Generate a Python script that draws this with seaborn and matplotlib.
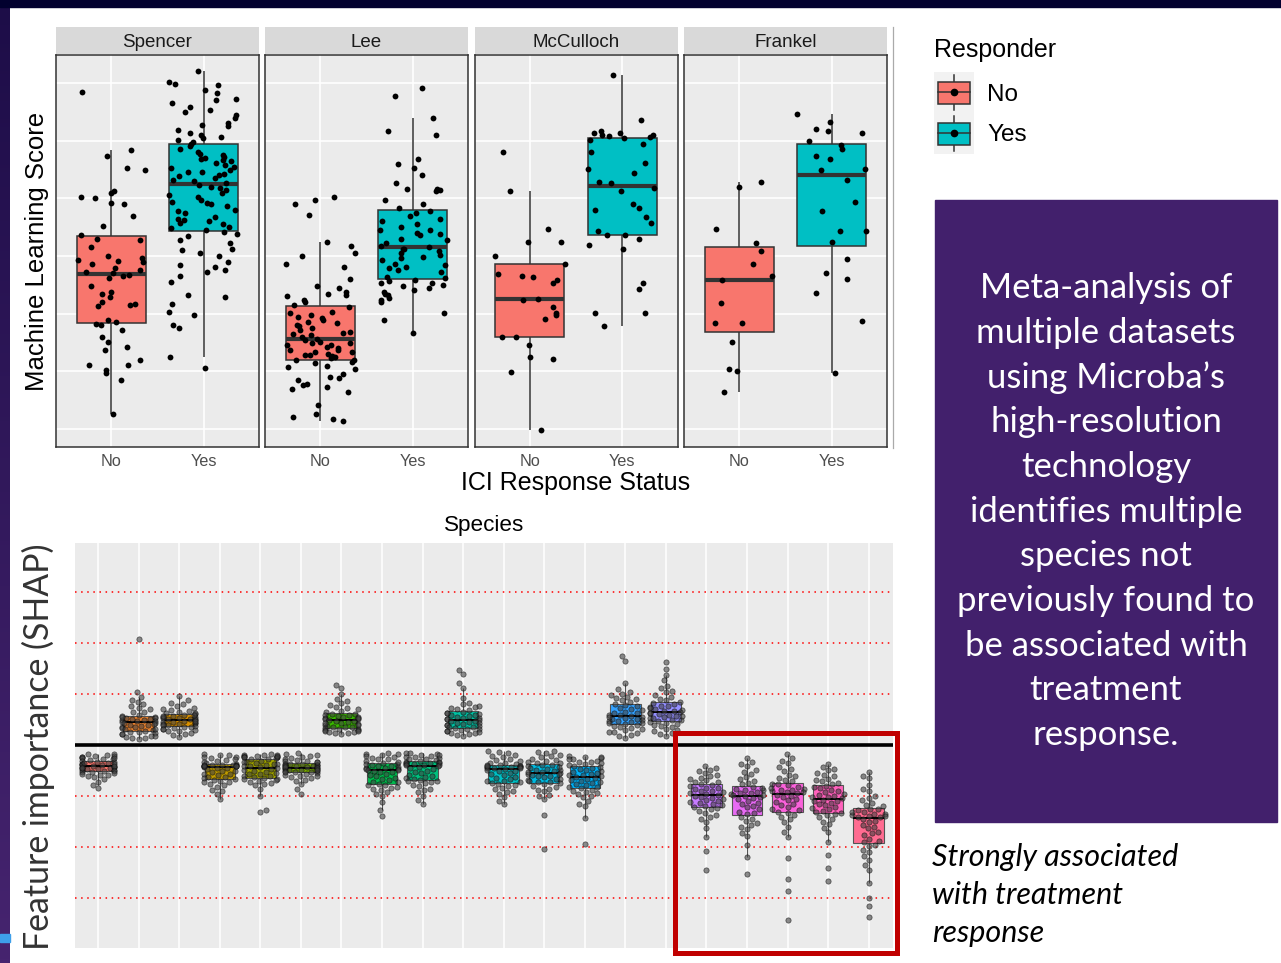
import numpy as np
import pandas as pd
import matplotlib
matplotlib.use("Agg")
import matplotlib.pyplot as plt
import seaborn as sns
from matplotlib.patches import Rectangle
from matplotlib.lines import Line2D
from matplotlib.colors import LinearSegmentedColormap

# ----------------------------- data: top chart -----------------------------
studies = ["Spencer", "Lee", "McCulloch", "Frankel"]
responder_levels = ["No", "Yes"]
responder_colors = {"No": "#F8766D", "Yes": "#00BFC4"}

spencer_no = [0.585, 0.484, 0.473, 0.453, 0.449, 0.413, 0.409, 0.403, 0.401, 0.392, 0.390, 0.369,
              0.352, 0.336, 0.330, 0.328, 0.316, 0.300, 0.296, 0.293, 0.291, 0.290, 0.287, 0.280,
              0.276, 0.273, 0.271, 0.268, 0.266, 0.262, 0.248, 0.238, 0.235, 0.229, 0.221, 0.217,
              0.215, 0.213, 0.186, 0.183, 0.190, 0.180, 0.172, 0.160, 0.151, 0.143, 0.137, 0.120,
              0.112, 0.111, 0.103, 0.098, 0.085, 0.027]
spencer_yes = [0.621, 0.602, 0.599, 0.596, 0.588, 0.582, 0.572, 0.570, 0.565, 0.559, 0.553, 0.550,
               0.544, 0.540, 0.530, 0.528, 0.525, 0.518, 0.513, 0.510, 0.507, 0.505, 0.501, 0.498,
               0.495, 0.490, 0.485, 0.481, 0.477, 0.475, 0.472, 0.470, 0.468, 0.466, 0.464, 0.461,
               0.458, 0.455, 0.452, 0.449, 0.446, 0.445, 0.443, 0.440, 0.438, 0.435, 0.432, 0.430,
               0.427, 0.423, 0.420, 0.418, 0.414, 0.409, 0.405, 0.403, 0.397, 0.394, 0.392, 0.391,
               0.386, 0.380, 0.378, 0.374, 0.368, 0.365, 0.362, 0.360, 0.357, 0.355, 0.351, 0.348,
               0.345, 0.342, 0.339, 0.334, 0.328, 0.322, 0.313, 0.310, 0.305, 0.300, 0.290, 0.284,
               0.281, 0.276, 0.273, 0.265, 0.255, 0.232, 0.229, 0.217, 0.203, 0.198, 0.180, 0.175,
               0.125, 0.106]
lee_no = [0.403, 0.397, 0.391, 0.371, 0.325, 0.317, 0.305, 0.300, 0.287, 0.281, 0.261, 0.248,
          0.244, 0.238, 0.235, 0.232, 0.230, 0.224, 0.220, 0.215, 0.212, 0.145, 0.203, 0.201,
          0.198, 0.133, 0.195, 0.192, 0.189, 0.186, 0.184, 0.180, 0.178, 0.129, 0.175, 0.172,
          0.169, 0.166, 0.165, 0.163, 0.160, 0.157, 0.154, 0.151, 0.150, 0.149, 0.146, 0.143,
          0.140, 0.138, 0.137, 0.134, 0.131, 0.128, 0.126, 0.125, 0.123, 0.120, 0.119, 0.117,
          0.114, 0.110, 0.108, 0.105, 0.095, 0.091, 0.088, 0.085, 0.079, 0.076, 0.073, 0.070,
          0.065, 0.042, 0.027, 0.021, 0.018, 0.014]
lee_yes = [0.591, 0.578, 0.540, 0.517, 0.510, 0.469, 0.460, 0.453, 0.440, 0.426, 0.417, 0.416,
           0.414, 0.412, 0.398, 0.390, 0.383, 0.378, 0.374, 0.370, 0.365, 0.360, 0.355, 0.351,
           0.346, 0.345, 0.340, 0.339, 0.336, 0.330, 0.328, 0.322, 0.318, 0.316, 0.313, 0.312,
           0.308, 0.305, 0.302, 0.299, 0.296, 0.293, 0.287, 0.284, 0.281, 0.279, 0.276, 0.273,
           0.256, 0.254, 0.263, 0.262, 0.258, 0.253, 0.250, 0.248, 0.244, 0.241, 0.238, 0.235,
           0.232, 0.228, 0.224, 0.221, 0.201, 0.189, 0.167]
mcculloch_no = [0.480, 0.413, 0.347, 0.325, 0.324, 0.300, 0.286, 0.269, 0.265, 0.263, 0.258, 0.254,
                0.225, 0.223, 0.211, 0.202, 0.198, 0.191, 0.160, 0.159, 0.146, 0.125, 0.121, 0.099,
                -0.002]
mcculloch_yes = [0.614, 0.536, 0.517, 0.514, 0.513, 0.510, 0.509, 0.508, 0.507, 0.504, 0.502, 0.494,
                 0.480, 0.461, 0.451, 0.444, 0.429, 0.426, 0.418, 0.413, 0.390, 0.384, 0.379, 0.368,
                 0.358, 0.343, 0.336, 0.336, 0.329, 0.319, 0.313, 0.254, 0.243, 0.201, 0.201, 0.179]
frankel_no = [0.429, 0.420, 0.347, 0.322, 0.309, 0.287, 0.265, 0.258, 0.218, 0.184, 0.184, 0.151,
              0.105, 0.101, 0.065]
frankel_yes = [0.547, 0.532, 0.520, 0.516, 0.513, 0.500, 0.492, 0.485, 0.474, 0.468, 0.451, 0.450,
               0.432, 0.394, 0.378, 0.343, 0.343, 0.324, 0.295, 0.271, 0.260, 0.236, 0.187, 0.098]

score_groups = {
    ("Spencer", "No"): spencer_no, ("Spencer", "Yes"): spencer_yes,
    ("Lee", "No"): lee_no, ("Lee", "Yes"): lee_yes,
    ("McCulloch", "No"): mcculloch_no, ("McCulloch", "Yes"): mcculloch_yes,
    ("Frankel", "No"): frankel_no, ("Frankel", "Yes"): frankel_yes,
}

# ----------------------------- data: bottom chart -----------------------------
species = [f"Species {i:02d}" for i in range(1, 21)]
species_colors = ["#F8766D", "#EA8331", "#D89000", "#C09B00", "#A3A500", "#7CAE00", "#39B600",
                  "#00BB4E", "#00BF7D", "#00C1A3", "#00BFC4", "#00BAE0", "#00B0F6", "#35A2FF",
                  "#9590FF", "#C77CFF", "#E76BF3", "#FA62DB", "#FF62BC", "#FF6C91"]

shap_01 = [-0.017, -0.019, -0.021, -0.023, -0.024, -0.026, -0.028, -0.029, -0.031, -0.033, -0.034,
           -0.036, -0.037, -0.038, -0.039, -0.040, -0.042, -0.043, -0.044, -0.045, -0.046, -0.048,
           -0.049, -0.050, -0.053, -0.056, -0.059, -0.063, -0.067, -0.072, -0.078, -0.084,
           -0.018, -0.022, -0.025, -0.027, -0.032, -0.035, -0.037, -0.040, -0.042, -0.045, -0.047,
           -0.050, -0.052, -0.055, -0.058, -0.061]
shap_02 = [0.209, 0.104, 0.095, 0.088, 0.080, 0.072, 0.066, 0.060, 0.057, 0.055, 0.053, 0.051,
           0.050, 0.048, 0.047, 0.046, 0.044, 0.042, 0.040, 0.038, 0.036, 0.034, 0.031, 0.029,
           0.027, 0.025, 0.023, 0.021, 0.019, 0.017, 0.015, 0.013,
           0.065, 0.070, 0.076, 0.085, 0.049, 0.052, 0.054, 0.056, 0.043, 0.039, 0.035, 0.032,
           0.026, 0.022, 0.018, 0.015]
shap_03 = [0.096, 0.088, 0.082, 0.077, 0.073, 0.069, 0.066, 0.063, 0.061, 0.059, 0.058, 0.056,
           0.055, 0.053, 0.052, 0.051, 0.049, 0.047, 0.046, 0.044, 0.043, 0.041, 0.039, 0.038,
           0.036, 0.034, 0.032, 0.030, 0.027, 0.024, 0.020, 0.016,
           0.064, 0.067, 0.071, 0.080, 0.052, 0.054, 0.057, 0.060, 0.048, 0.045, 0.042, 0.040,
           0.035, 0.031, 0.028, 0.022]
shap_04 = [-0.017, -0.020, -0.023, -0.026, -0.029, -0.031, -0.034, -0.036, -0.038, -0.039, -0.039,
           -0.040, -0.040, -0.041, -0.041, -0.042, -0.044, -0.047, -0.050, -0.053, -0.056, -0.059,
           -0.062, -0.065, -0.067, -0.070, -0.073, -0.077, -0.082, -0.088, -0.096, -0.106,
           -0.019, -0.024, -0.028, -0.033, -0.038, -0.039, -0.040, -0.041, -0.045, -0.051, -0.057,
           -0.063, -0.068, -0.072, -0.079, -0.090]
shap_05 = [-0.018, -0.019, -0.020, -0.021, -0.022, -0.023, -0.024, -0.025, -0.027, -0.030, -0.033,
           -0.035, -0.037, -0.039, -0.041, -0.043, -0.046, -0.049, -0.052, -0.055, -0.057, -0.060,
           -0.062, -0.064, -0.067, -0.070, -0.074, -0.079, -0.085, -0.100, -0.127, -0.130,
           -0.019, -0.021, -0.023, -0.024, -0.028, -0.032, -0.036, -0.040, -0.045, -0.050, -0.056,
           -0.061, -0.066, -0.069, -0.072, -0.076]
shap_06 = [-0.015, -0.018, -0.021, -0.024, -0.027, -0.029, -0.031, -0.033, -0.036, -0.037, -0.038,
           -0.039, -0.040, -0.041, -0.042, -0.043, -0.045, -0.046, -0.047, -0.048, -0.049, -0.050,
           -0.052, -0.053, -0.055, -0.058, -0.061, -0.065, -0.070, -0.077, -0.086, -0.095,
           -0.020, -0.025, -0.030, -0.033, -0.037, -0.039, -0.041, -0.043, -0.045, -0.048, -0.050,
           -0.052, -0.056, -0.060, -0.063, -0.068]
shap_07 = [0.119, 0.112, 0.100, 0.090, 0.082, 0.075, 0.070, 0.066, 0.062, 0.060, 0.058, 0.056,
           0.054, 0.052, 0.051, 0.050, 0.048, 0.046, 0.044, 0.042, 0.040, 0.038, 0.036, 0.035,
           0.033, 0.031, 0.030, 0.028, 0.026, 0.025, 0.023, 0.021,
           0.068, 0.072, 0.078, 0.086, 0.053, 0.055, 0.059, 0.061, 0.047, 0.043, 0.039, 0.036,
           0.032, 0.029, 0.027, 0.024]
shap_08 = [-0.015, -0.017, -0.019, -0.022, -0.025, -0.028, -0.031, -0.034, -0.036, -0.038, -0.040,
           -0.042, -0.044, -0.046, -0.047, -0.048, -0.050, -0.053, -0.057, -0.061, -0.065, -0.069,
           -0.073, -0.076, -0.079, -0.083, -0.087, -0.092, -0.100, -0.112, -0.128, -0.139,
           -0.018, -0.023, -0.027, -0.032, -0.037, -0.041, -0.045, -0.048, -0.052, -0.059, -0.066,
           -0.072, -0.078, -0.081, -0.085, -0.095]
shap_09 = [-0.015, -0.017, -0.019, -0.021, -0.023, -0.025, -0.027, -0.029, -0.032, -0.033, -0.034,
           -0.035, -0.037, -0.038, -0.039, -0.040, -0.043, -0.046, -0.050, -0.054, -0.058, -0.062,
           -0.065, -0.068, -0.071, -0.075, -0.080, -0.085, -0.092, -0.100, -0.108, -0.116,
           -0.016, -0.020, -0.024, -0.028, -0.031, -0.034, -0.036, -0.039, -0.045, -0.052, -0.060,
           -0.066, -0.070, -0.073, -0.078, -0.088]
shap_10 = [0.148, 0.140, 0.121, 0.112, 0.092, 0.083, 0.076, 0.070, 0.066, 0.063, 0.061, 0.059,
           0.056, 0.054, 0.052, 0.051, 0.049, 0.047, 0.045, 0.043, 0.041, 0.039, 0.037, 0.035,
           0.033, 0.031, 0.029, 0.027, 0.025, 0.023, 0.020, 0.018,
           0.069, 0.072, 0.074, 0.080, 0.053, 0.057, 0.060, 0.064, 0.048, 0.044, 0.040, 0.036,
           0.032, 0.028, 0.024, 0.021]
shap_11 = [-0.012, -0.015, -0.019, -0.023, -0.027, -0.031, -0.034, -0.037, -0.039, -0.040, -0.041,
           -0.042, -0.043, -0.044, -0.045, -0.046, -0.048, -0.051, -0.055, -0.059, -0.063, -0.067,
           -0.070, -0.073, -0.076, -0.080, -0.084, -0.089, -0.095, -0.102, -0.109, -0.116,
           -0.014, -0.021, -0.029, -0.035, -0.039, -0.041, -0.043, -0.045, -0.050, -0.057, -0.065,
           -0.071, -0.075, -0.078, -0.086, -0.092]
shap_12 = [-0.012, -0.016, -0.020, -0.024, -0.027, -0.030, -0.033, -0.035, -0.038, -0.041, -0.044,
           -0.046, -0.048, -0.050, -0.052, -0.054, -0.056, -0.058, -0.060, -0.063, -0.066, -0.068,
           -0.071, -0.073, -0.076, -0.080, -0.085, -0.090, -0.097, -0.105, -0.137, -0.203,
           -0.014, -0.022, -0.029, -0.034, -0.039, -0.043, -0.049, -0.053, -0.057, -0.061, -0.067,
           -0.072, -0.075, -0.082, -0.088, -0.100]
shap_13 = [-0.022, -0.024, -0.026, -0.028, -0.031, -0.033, -0.035, -0.038, -0.041, -0.044, -0.047,
           -0.050, -0.053, -0.056, -0.058, -0.061, -0.063, -0.066, -0.069, -0.072, -0.075, -0.078,
           -0.081, -0.084, -0.087, -0.091, -0.096, -0.102, -0.110, -0.120, -0.142, -0.193,
           -0.023, -0.027, -0.032, -0.036, -0.043, -0.048, -0.054, -0.059, -0.065, -0.070, -0.076,
           -0.082, -0.089, -0.094, -0.100, -0.115]
shap_14 = [0.175, 0.165, 0.122, 0.110, 0.101, 0.095, 0.090, 0.085, 0.080, 0.076, 0.072, 0.069,
           0.066, 0.063, 0.060, 0.058, 0.056, 0.054, 0.052, 0.050, 0.048, 0.046, 0.044, 0.042,
           0.039, 0.036, 0.033, 0.030, 0.026, 0.023, 0.019, 0.015,
           0.088, 0.093, 0.098, 0.105, 0.059, 0.064, 0.070, 0.078, 0.055, 0.051, 0.047, 0.043,
           0.038, 0.031, 0.025, 0.020]
shap_15 = [0.164, 0.150, 0.138, 0.127, 0.117, 0.107, 0.098, 0.090, 0.084, 0.080, 0.077, 0.074,
           0.071, 0.069, 0.067, 0.066, 0.064, 0.062, 0.060, 0.057, 0.055, 0.053, 0.050, 0.048,
           0.045, 0.042, 0.039, 0.035, 0.031, 0.027, 0.023, 0.019,
           0.088, 0.094, 0.104, 0.112, 0.068, 0.072, 0.076, 0.082, 0.063, 0.058, 0.054, 0.049,
           0.044, 0.037, 0.029, 0.022]
shap_16 = [-0.041, -0.045, -0.050, -0.055, -0.060, -0.065, -0.069, -0.073, -0.077, -0.080, -0.083,
           -0.086, -0.089, -0.092, -0.094, -0.097, -0.100, -0.103, -0.106, -0.109, -0.112, -0.115,
           -0.118, -0.121, -0.126, -0.132, -0.140, -0.150, -0.162, -0.180, -0.208, -0.244,
           -0.048, -0.058, -0.067, -0.072, -0.078, -0.084, -0.090, -0.095, -0.101, -0.107, -0.113,
           -0.119, -0.124, -0.129, -0.136, -0.145]
shap_17 = [-0.025, -0.032, -0.040, -0.048, -0.056, -0.063, -0.070, -0.077, -0.082, -0.085, -0.088,
           -0.091, -0.094, -0.096, -0.098, -0.099, -0.102, -0.106, -0.110, -0.115, -0.120, -0.125,
           -0.130, -0.135, -0.141, -0.148, -0.156, -0.165, -0.178, -0.195, -0.220, -0.252,
           -0.036, -0.052, -0.066, -0.074, -0.083, -0.087, -0.093, -0.097, -0.104, -0.113, -0.122,
           -0.133, -0.144, -0.152, -0.160, -0.172]
shap_18 = [-0.018, -0.026, -0.035, -0.043, -0.051, -0.058, -0.065, -0.071, -0.076, -0.079, -0.082,
           -0.085, -0.088, -0.090, -0.092, -0.094, -0.097, -0.101, -0.106, -0.111, -0.116, -0.121,
           -0.126, -0.130, -0.136, -0.145, -0.160, -0.180, -0.222, -0.263, -0.286, -0.343,
           -0.030, -0.047, -0.061, -0.068, -0.077, -0.083, -0.087, -0.091, -0.099, -0.108, -0.118,
           -0.128, -0.133, -0.140, -0.150, -0.170]
shap_19 = [-0.037, -0.043, -0.049, -0.055, -0.061, -0.066, -0.071, -0.076, -0.080, -0.084, -0.088,
           -0.092, -0.096, -0.099, -0.102, -0.104, -0.107, -0.110, -0.114, -0.118, -0.122, -0.126,
           -0.129, -0.132, -0.137, -0.145, -0.155, -0.170, -0.190, -0.215, -0.240, -0.267,
           -0.046, -0.058, -0.068, -0.074, -0.082, -0.090, -0.097, -0.101, -0.109, -0.116, -0.124,
           -0.131, -0.135, -0.141, -0.150, -0.162]
shap_20 = [-0.052, -0.065, -0.078, -0.090, -0.100, -0.108, -0.114, -0.120, -0.125, -0.128, -0.131,
           -0.134, -0.136, -0.138, -0.140, -0.141, -0.145, -0.151, -0.157, -0.163, -0.170, -0.177,
           -0.184, -0.190, -0.198, -0.210, -0.225, -0.245, -0.270, -0.300, -0.315, -0.337,
           -0.060, -0.085, -0.104, -0.117, -0.126, -0.130, -0.135, -0.139, -0.148, -0.160, -0.173,
           -0.187, -0.195, -0.205, -0.218, -0.235]
shap_values = [shap_01, shap_02, shap_03, shap_04, shap_05, shap_06, shap_07, shap_08, shap_09,
               shap_10, shap_11, shap_12, shap_13, shap_14, shap_15, shap_16, shap_17, shap_18,
               shap_19, shap_20]
shap_reference_lines = [-0.3, -0.2, -0.1, 0.1, 0.2, 0.3]

# ----------------------------- texts -----------------------------
panel_lines = ["Meta-analysis of", "multiple datasets", "using Microba\u2019s", "high-resolution",
               "technology", "identifies multiple", "species not", "previously found to",
               "be associated with", "treatment", "response."]
caption_lines = ["Strongly associated", "with treatment", "response"]

# ----------------------------- frames -----------------------------
top_df = pd.DataFrame([(s, r, v) for (s, r), vals in score_groups.items() for v in vals],
                      columns=["study", "responder", "score"])
bot_df = pd.DataFrame([(sp, v) for sp, vals in zip(species, shap_values) for v in vals],
                      columns=["species", "shap"])

# ----------------------------- figure -----------------------------
plt.rcParams["font.family"] = ["Liberation Sans", "DejaVu Sans"]
W, H = 1281, 963
fig = plt.figure(figsize=(W / 100, H / 100), dpi=100)
fig.patch.set_facecolor("white")


def fx(px):
    return px / W


def fy(py):
    return 1 - py / H


# slide decorations
ax_bg = fig.add_axes([0, 0, 10 / W, 1])
ax_bg.axis("off")
ax_bg.imshow(np.linspace(0, 1, 256).reshape(-1, 1), aspect="auto",
             cmap=LinearSegmentedColormap.from_list("strip", ["#1D0D48", "#46246F"]),
             extent=[0, 1, 0, 1], origin="upper")
fig.add_artist(Rectangle((0, fy(942)), 10 / W, 8 / H, color="#3E9FEA", transform=fig.transFigure))
fig.add_artist(Rectangle((0, fy(7)), 1, 7 / H, color="#02012F", transform=fig.transFigure))

# ----------------------------- top facets -----------------------------
np.random.seed(7)
facet_left_px = [56, 265, 474.5, 684]
facet_w_px = 203
for i, st in enumerate(studies):
    left = facet_left_px[i]
    ax = fig.add_axes([fx(left), fy(447), facet_w_px / W, 392 / H])
    ax.set_facecolor("#EBEBEB")
    sub = top_df[top_df["study"] == st]
    sns.boxplot(data=sub, x="responder", y="score", hue="responder", order=responder_levels,
                hue_order=responder_levels, palette=responder_colors, saturation=1, width=0.75,
                showfliers=False, showcaps=False, linewidth=1.1, linecolor="#333333",
                medianprops=dict(color="#333333", linewidth=3), legend=False, ax=ax)
    sns.stripplot(data=sub, x="responder", y="score", order=responder_levels, color="black",
                  size=4.2, jitter=0.38, ax=ax, zorder=3)
    ax.set_xlim(-0.6, 1.6)
    ax.set_ylim(-0.031, 0.6485)
    ax.set_yticks(np.arange(0, 0.65, 0.1))
    ax.set_yticklabels([])
    ax.set_axisbelow(True)
    ax.grid(True, color="white", linewidth=1.2)
    ax.set_xlabel("")
    ax.set_ylabel("")
    ax.tick_params(axis="y", length=0)
    ax.tick_params(axis="x", length=0, pad=5, labelsize=11.7, labelcolor="#4D4D4D")
    for sp in ax.spines.values():
        sp.set_color("#333333")
        sp.set_linewidth(1.1)
    sax = fig.add_axes([fx(left), fy(54.5), facet_w_px / W, 27.5 / H])
    sax.set_facecolor("#D9D9D9")
    sax.set_xticks([])
    sax.set_yticks([])
    for sp in sax.spines.values():
        sp.set_visible(False)
    sax.text(0.5, 0.44, st, ha="center", va="center", fontsize=13.5, color="#1A1A1A",
             transform=sax.transAxes)

fig.add_artist(Line2D([fx(893), fx(893)], [fy(448), fy(27)], color="#AAAAAA", lw=0.9,
                      transform=fig.transFigure))

fig.text(fx(576), fy(483), "ICI Response Status", ha="center", va="center", fontsize=18,
         color="black")
fig.text(fx(37), fy(251), "Machine Learning Score", ha="center", va="center", rotation=90,
         fontsize=18.5, color="black")

# legend
fig.text(fx(934), fy(50), "Responder", ha="left", va="center", fontsize=18, color="black")
for j, lvl in enumerate(responder_levels):
    fig.text(fx(987), fy(95 + 40 * j), lvl, ha="left", va="center", fontsize=17.5, color="black")
lax = fig.add_axes([fx(934), fy(154), 40 / W, 82 / H])
lax.set_xlim(0, 1)
lax.set_ylim(0, 2)
lax.axis("off")
lax.add_patch(Rectangle((0, 0), 1, 2, color="#F2F2F2", zorder=0))
for j, lvl in enumerate(responder_levels):
    base = 1 - j
    lax.plot([0.5, 0.5], [base + 0.07, base + 0.93], color="#333333", lw=1.1, zorder=1)
    lax.add_patch(Rectangle((0.1, base + 0.23), 0.8, 0.53, facecolor=responder_colors[lvl],
                            edgecolor="#333333", lw=1.1, zorder=2))
    lax.plot([0.1, 0.9], [base + 0.5, base + 0.5], color="#333333", lw=1.1, zorder=3)
    lax.plot([0.5], [base + 0.5], "o", color="black", ms=4.5, zorder=4)

# ----------------------------- bottom chart -----------------------------
axb = fig.add_axes([fx(75), fy(947.7), 818 / W, 405 / H])
axb.set_facecolor("#EBEBEB")
sns.boxplot(data=bot_df, x="species", y="shap", hue="species", order=species, hue_order=species,
            palette=species_colors, saturation=1, width=0.75, showfliers=False, showcaps=False,
            linewidth=0.8, linecolor="#555555", medianprops=dict(color="black", linewidth=1.4),
            legend=False, ax=axb)
sns.swarmplot(data=bot_df, x="species", y="shap", order=species, color="#404040", alpha=0.6,
              size=3.8, edgecolor="black", linewidth=0.5, ax=axb, zorder=3)
for v in shap_reference_lines:
    axb.axhline(v, color="red", linestyle=(0, (1, 3)), linewidth=1.1, zorder=1.5)
axb.axhline(0, color="black", linewidth=2.6, zorder=1.6)
axb.set_xlim(-0.57, 19.6)
axb.set_ylim(-0.397, 0.397)
axb.set_xticks(range(len(species)))
axb.set_axisbelow(True)
axb.xaxis.grid(True, color="white", linewidth=1.1)
axb.yaxis.grid(False)
axb.tick_params(length=0, labelbottom=False, labelleft=False)
axb.set_xlabel("")
axb.set_ylabel("")
for sp in axb.spines.values():
    sp.set_visible(False)

fig.text(fx(484), fy(525.7), "Species", ha="center", va="center", fontsize=16.2, color="black")
fig.text(fx(38), fy(747), "Feature importance (SHAP)", ha="center", va="center", rotation=90,
         fontsize=24.4, family=["Lato", "DejaVu Sans"], color="#333333")

# highlight frame
fig.add_artist(Rectangle((fx(674.5), fy(952.5)), (896.5 - 674.5) / W, (952.5 - 732.5) / H,
                         fill=False, edgecolor="#C00000", lw=3.6, transform=fig.transFigure))

# purple message panel
fig.add_artist(Rectangle((fx(935), fy(822)), 342 / W, 622 / H, color="#42206C",
                         transform=fig.transFigure))
for k, line in enumerate(panel_lines):
    fig.text(fx(1106), fy(288 + 44.7 * k), line, ha="center", va="center", fontsize=25,
             family=["Lato", "DejaVu Sans"], color="white")

for k, line in enumerate(caption_lines):
    fig.text(fx(932), fy(857 + 38 * k), line, ha="left", va="center", fontsize=22,
             style="italic", family=["Lato", "DejaVu Sans"], color="black")

fig.savefig("out.png", dpi=100)
